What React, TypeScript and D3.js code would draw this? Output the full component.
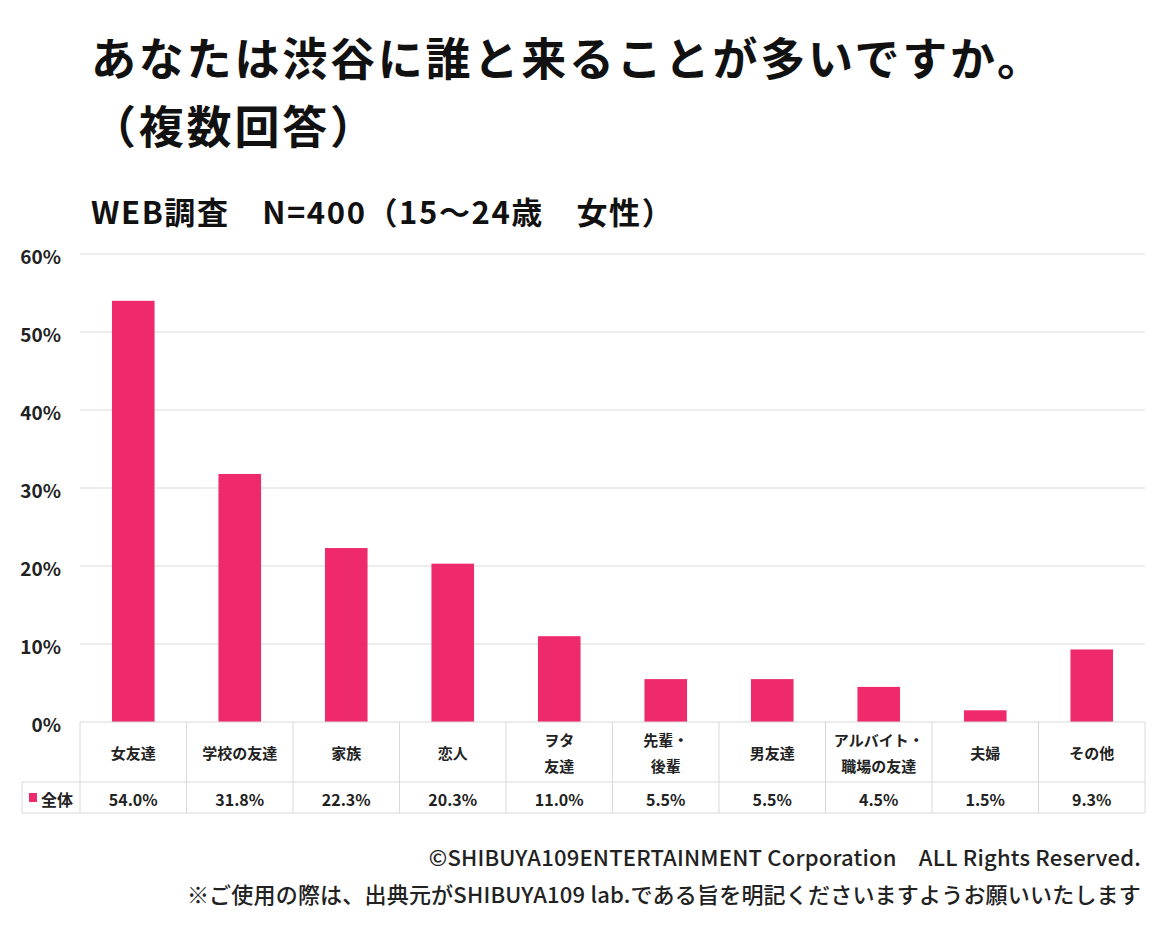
import React from "react";
import * as d3 from "d3";

const titleLines = ["あなたは渋谷に誰と来ることが多いですか。", "（複数回答）"];
const subtitle = "WEB調査　N=400（15～24歳　女性）";
const categories = [
  "女友達",
  "学校の友達",
  "家族",
  "恋人",
  "ヲタ\n友達",
  "先輩・\n後輩",
  "男友達",
  "アルバイト・\n職場の友達",
  "夫婦",
  "その他",
];
const values = [54.0, 31.8, 22.3, 20.3, 11.0, 5.5, 5.5, 4.5, 1.5, 9.3];
const seriesName = "全体";
const yTicks = [0, 10, 20, 30, 40, 50, 60];
const footerLines = [
  "©SHIBUYA109ENTERTAINMENT Corporation　ALL Rights Reserved.",
  "※ご使用の際は、出典元がSHIBUYA109 lab.である旨を明記くださいますようお願いいたします",
];

const W = 1160;
const H = 937;
const FONT = "'Noto Sans CJK JP', 'Noto Sans', sans-serif";
const PINK = "#EE2A6C";
const GRID = "#d9d9d9";

export default function App() {
  const left = 80;
  const right = 1145;
  const plotTop = 254;
  const plotBottom = 722;
  const headerBottom = 782;
  const tableBottom = 813;
  const tableLeft = 22;

  const x = d3
    .scaleBand<number>()
    .domain(d3.range(categories.length))
    .range([left, right])
    .paddingInner(0.6)
    .paddingOuter(0.3);
  const y = d3.scaleLinear().domain([0, 60]).range([plotBottom, plotTop]);
  const step = x.step();
  const colLeft = (i: number) => (x(i) as number) - (step * 0.6) / 2;
  const colCenter = (i: number) => (x(i) as number) + x.bandwidth() / 2;

  return (
    <div style={{ position: "absolute", left: 0, top: 0, background: "#fff" }}>
      <svg width={W} height={H} style={{ display: "block", fontFamily: FONT }}>
        <rect width={W} height={H} fill="#fff" />
        {/* title */}
        <text x={91} y={76} fontSize={45} fontWeight={700} fill="#111" letterSpacing={2.8}>
          {titleLines[0]}
        </text>
        <text x={91} y={144} fontSize={45} fontWeight={700} fill="#111" letterSpacing={2.8}>
          {titleLines[1]}
        </text>
        <text x={91} y={224} fontSize={31} fontWeight={700} fill="#111" letterSpacing={1.6}>
          {subtitle}
        </text>

        {/* gridlines */}
        {yTicks
          .filter((t) => t > 0)
          .map((t) => (
            <line
              key={t}
              x1={left}
              x2={right}
              y1={y(t)}
              y2={y(t)}
              stroke={GRID}
              strokeWidth={1}
            />
          ))}
        {/* y tick labels */}
        {yTicks.map((t) => (
          <text
            key={t}
            x={61}
            y={y(t) + 1}
            textAnchor="end"
            dominantBaseline="central"
            fontSize={19}
            fontWeight={700}
            fill="#222"
          >
            {t}%
          </text>
        ))}

        {/* bars */}
        {values.map((v, i) => (
          <rect
            key={i}
            x={x(i)}
            y={y(v)}
            width={x.bandwidth()}
            height={y(0) - y(v)}
            fill={PINK}
          />
        ))}

        {/* table */}
        <line x1={left} x2={right} y1={plotBottom} y2={plotBottom} stroke={GRID} />
        <line x1={tableLeft} x2={right} y1={headerBottom} y2={headerBottom} stroke={GRID} />
        <line x1={tableLeft} x2={right} y1={tableBottom} y2={tableBottom} stroke={GRID} />
        <line x1={tableLeft} x2={tableLeft} y1={headerBottom} y2={tableBottom} stroke={GRID} />
        {categories.map((_, i) => (
          <line
            key={i}
            x1={colLeft(i)}
            x2={colLeft(i)}
            y1={plotBottom}
            y2={tableBottom}
            stroke={GRID}
          />
        ))}
        <line x1={right} x2={right} y1={plotBottom} y2={tableBottom} stroke={GRID} />

        {categories.map((c, i) => {
          const lines = c.split("\n");
          const mid = (plotBottom + headerBottom) / 2;
          const lh = 26;
          return (
            <text
              key={i}
              x={colCenter(i)}
              textAnchor="middle"
              fontSize={15}
              fontWeight={700}
              fill="#222"
            >
              {lines.map((l, j) => (
                <tspan
                  key={j}
                  x={colCenter(i)}
                  y={mid + (j - (lines.length - 1) / 2) * lh}
                  dominantBaseline="central"
                >
                  {l}
                </tspan>
              ))}
            </text>
          );
        })}
        {values.map((v, i) => (
          <text
            key={i}
            x={colCenter(i)}
            y={(headerBottom + tableBottom) / 2 + 1}
            textAnchor="middle"
            dominantBaseline="central"
            fontSize={16}
            fontWeight={700}
            fill="#222"
          >
            {v.toFixed(1)}%
          </text>
        ))}
        <rect x={29} y={793} width={8} height={9} fill={PINK} />
        <text
          x={41}
          y={(headerBottom + tableBottom) / 2 + 1}
          dominantBaseline="central"
          fontSize={16}
          fontWeight={700}
          fill="#222"
        >
          {seriesName}
        </text>

        {/* footer */}
        <text x={1141} y={866} textAnchor="end" fontSize={22} fontWeight={500} fill="#222" letterSpacing={0.2}>
          {footerLines[0]}
        </text>
        <text x={1141} y={903} textAnchor="end" fontSize={22} fontWeight={500} fill="#222" letterSpacing={0.2}>
          {footerLines[1]}
        </text>
      </svg>
    </div>
  );
}
